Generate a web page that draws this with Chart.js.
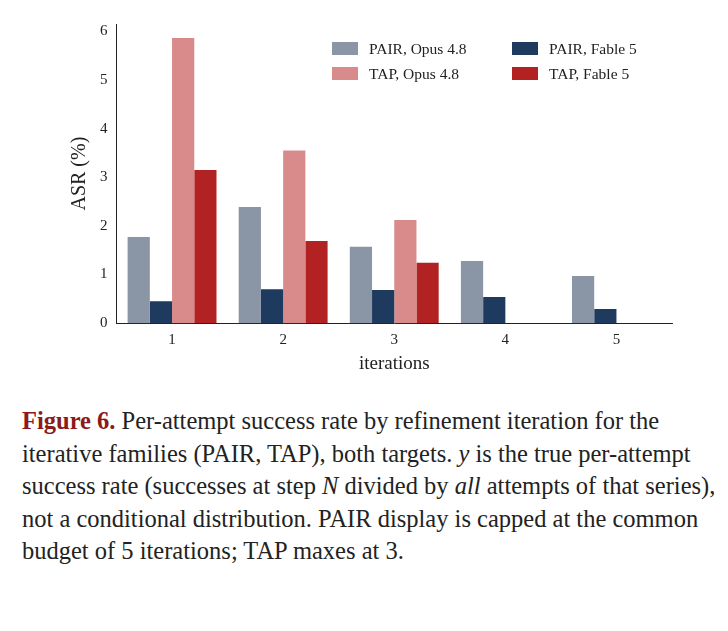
<!DOCTYPE html>
<html lang="en">
<head>
<meta charset="UTF-8">
<title>Chart</title>
<script src="https://cdn.jsdelivr.net/npm/chart.js"></script>
<style>
  body { margin: 0; background: #fff; font-family: "Liberation Serif", "DejaVu Serif", serif; }
  #wrap { position: relative; width: 728px; height: 385px; }
  #legend { position: absolute; left: 332px; top: 40px; font-size: 15.5px; color: #222;
            display: grid; grid-template-columns: 180px 160px; row-gap: 7px; }
  #legend span.sw { display: inline-block; width: 26px; height: 13px; margin-right: 11px; vertical-align: -1px; }
  #cap { position: absolute; left: 22px; top: 405px; width: 695px; font-size: 24.5px; line-height: 32.6px; color: #222; }
  #cap b { color: #8b1a1a; }
</style>
</head>
<body>
<div id="wrap">
  <canvas id="grafico" width="728" height="385"></canvas>
  <div id="legend"></div>
</div>
<div id="cap"><b>Figure 6.</b> Per-attempt success rate by refinement iteration for the iterative families (PAIR, TAP), both targets. <i>y</i> is the true per-attempt success rate (successes at step <i>N</i> divided by <i>all</i> attempts of that series), not a conditional distribution. PAIR display is capped at the common budget of 5 iterations; TAP maxes at 3.</div>
<script>
  const iteracoes = ["1", "2", "3", "4", "5"]
  const pairOpus = [1.77, 2.39, 1.57, 1.28, 0.97]
  const pairFable = [0.45, 0.70, 0.68, 0.54, 0.29]
  const tapOpus = [5.86, 3.55, 2.12, null, null]
  const tapFable = [3.15, 1.69, 1.24, null, null]
  const rotulos = ["PAIR, Opus 4.8", "PAIR, Fable 5", "TAP, Opus 4.8", "TAP, Fable 5"]
  const cores = ["#8a96a5", "#1f3a5f", "#d98b8b", "#b22222"]

  const serie = (i, d) => ({ label: rotulos[i], data: d, backgroundColor: cores[i], borderWidth: 0,
    categoryPercentage: 0.8, barPercentage: 1.0 })

  const fonte = { family: "Liberation Serif", size: 15 }
  new Chart(document.getElementById('grafico'), {
    type: 'bar',
    data: {
      labels: iteracoes,
      datasets: [serie(0, pairOpus), serie(1, pairFable), serie(2, tapOpus), serie(3, tapFable)]
    },
    options: {
      responsive: false,
      animation: false,
      layout: { padding: { left: 64, right: 56, top: 24, bottom: 10 } },
      plugins: { legend: { display: false }, tooltip: { enabled: false } },
      scales: {
        x: {
          grid: { display: false, drawTicks: true, tickLength: 5, tickColor: '#222' },
          border: { color: '#222' },
          ticks: { color: '#222', font: fonte },
          title: { display: true, text: 'iterations', color: '#222', font: { family: "Liberation Serif", size: 19 }, padding: 0 }
        },
        y: {
          min: 0, max: 6.15,
          afterBuildTicks: ax => { ax.ticks = [0,1,2,3,4,5,6].map(v => ({ value: v })) },
          grid: { display: false, drawTicks: true, tickLength: 5, tickColor: '#222' },
          border: { color: '#222' },
          ticks: { color: '#222', font: fonte, padding: 4 },
          title: { display: true, text: 'ASR (%)', color: '#222', font: { family: "Liberation Serif", size: 20 }, padding: 4 }
        }
      }
    }
  })

  const ordem = [0, 1, 2, 3]
  document.getElementById('legend').innerHTML = ordem.map(i =>
    `<div><span class="sw" style="background:${cores[i]}"></span>${rotulos[i]}</div>`).join('')
</script>
</body>
</html>
